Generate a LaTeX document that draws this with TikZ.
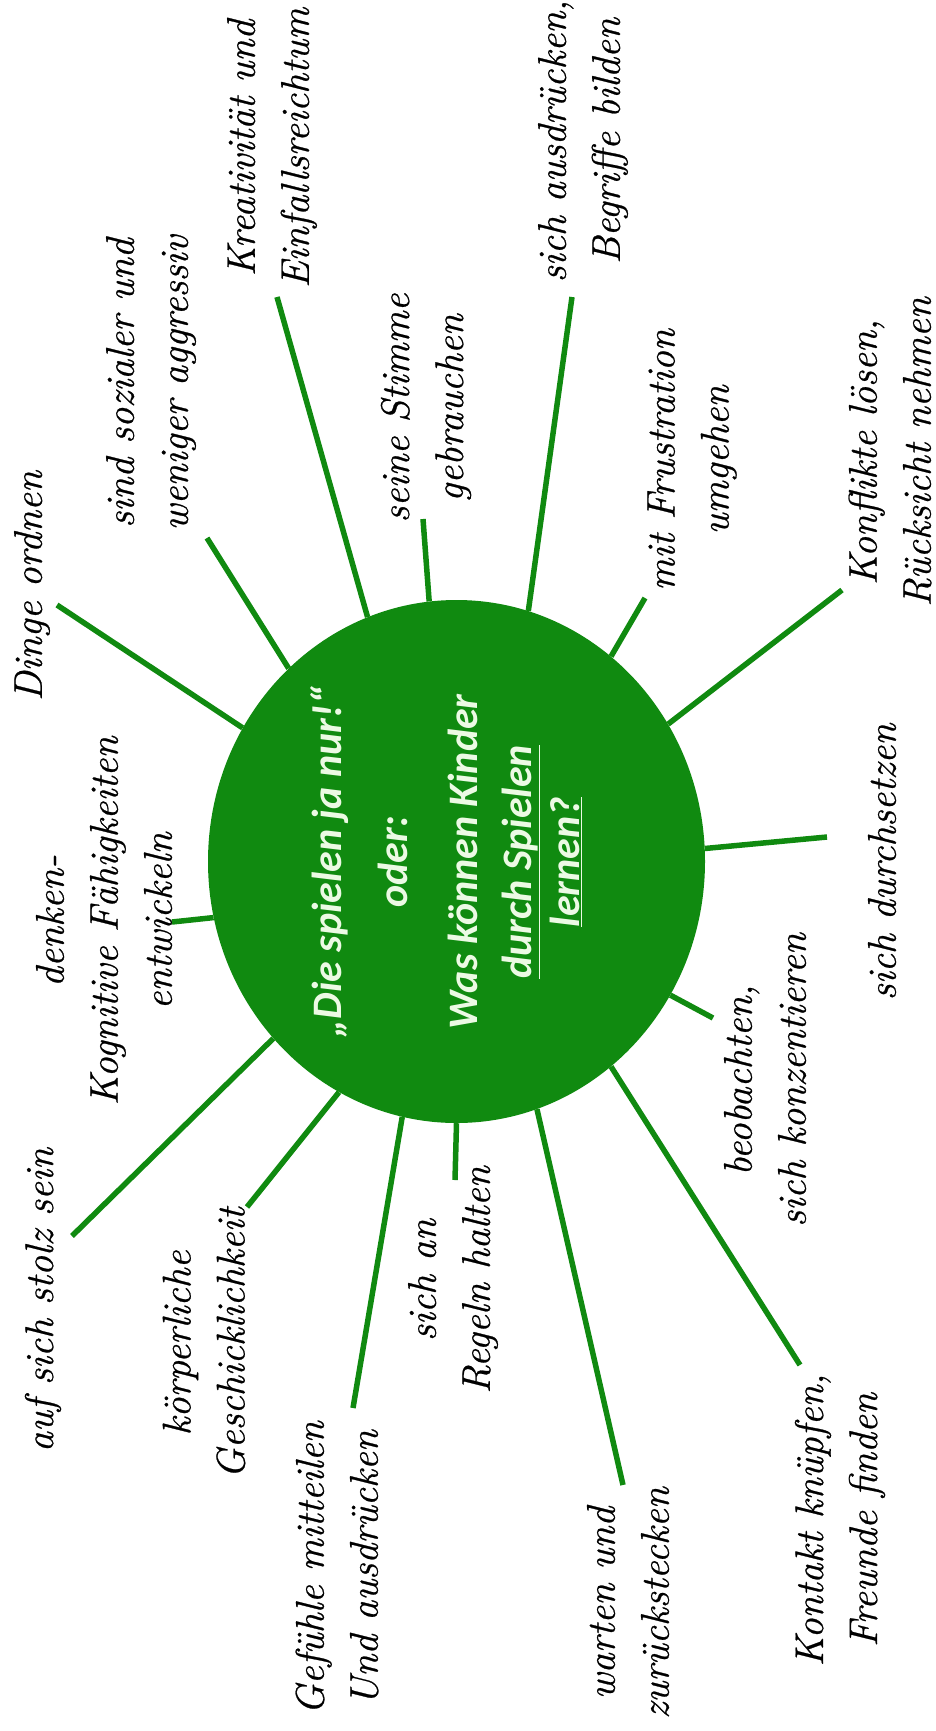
\documentclass[tikz,border=0pt]{standalone}
\usepackage{fontspec}
\newfontfamily\titlefont{Carlito}
\newfontfamily\lblfont{Latin Modern Roman}[ItalicFeatures={FakeBold=0.6}]
\usetikzlibrary{shapes.geometric}
\definecolor{leafgreen}{RGB}{16,138,16}
\definecolor{titletext}{RGB}{236,250,228}
\begin{document}
\begin{tikzpicture}[x=1pt,y=-1pt,
  lbl/.style={rotate=90, align=center, inner sep=0pt, text=black,
    font=\lblfont\fontsize{40}{54}\selectfont\itshape},
  spoke/.style={draw=leafgreen, line width=5.5pt},
  hub/.style={ellipse, fill=leafgreen, inner sep=0pt,
    minimum width=497pt, minimum height=523pt},
  hubtext/.style={rotate=90, align=center, text=titletext, inner sep=0pt,
    font=\titlefont\bfseries\itshape\fontsize{42}{52}\selectfont}]
\useasboundingbox (0,0) rectangle (935,1731);

% central ellipse and its text
\node[hub] (ell) at (456.5,861.5) {};
\node[hubtext] (title) at (446,862)
  {„Die spielen ja nur!“\\[14pt] oder:\\[18pt] Was können Kinder\\[2pt]
   \underline{durch Spielen}\\[-4pt] \underline{lernen?}};

% labels
\node[lbl] (dinge)    at (32,586)   {Dinge ordnen};
\node[lbl] (sozial)   at (151,383)  {sind sozialer und\\weniger aggressiv};
\node[lbl] (kreativ)  at (272,148)  {Kreativität und\\Einfallsreichtum};
\node[lbl] (stimme)   at (426,408)  {seine Stimme\\gebrauchen};
\node[lbl] (begriffe) at (583,141)  {sich ausdrücken,\\Begriffe bilden};
\node[lbl] (frust)    at (692,460)  {mit Frustration\\umgehen};
\node[lbl] (konflikt) at (890,452)  {Konflikte lösen,\\Rücksicht nehmen};
\node[lbl] (durch)    at (882,862)  {sich durchsetzen};
\node[lbl] (beob)     at (765,1080) {beobachten,\\sich konzentieren};
\node[lbl] (kontakt)  at (840,1520) {Kontakt knüpfen,\\Freunde finden};
\node[lbl] (warten)   at (628,1603) {warten und\\zurückstecken};
\node[lbl] (regeln)   at (453,1280) {sich an\\Regeln halten};
\node[lbl] (gefuehle) at (337,1568) {Gefühle mitteilen\\Und ausdrücken};
\node[lbl] (koerper)  at (204,1343) {körperliche\\Geschicklichkeit};
\node[lbl] (stolz)    at (43,1300)  {auf sich stolz sein};
\node[lbl] (denken)   at (104,921)  {denken-\\Kognitive Fähigkeiten\\entwickeln};

% outer ends of the spokes
\coordinate (e-dinge)    at (57,605);
\coordinate (e-sozial)   at (207,538);
\coordinate (e-kreativ)  at (277,297);
\coordinate (e-stimme)   at (423,519);
\coordinate (e-begriffe) at (572,297);
\coordinate (e-frust)    at (645,598);
\coordinate (e-konflikt) at (842,590);
\coordinate (e-durch)    at (827,837);
\coordinate (e-beob)     at (713,1018);
\coordinate (e-kontakt)  at (800,1365);
\coordinate (e-warten)   at (623,1485);
\coordinate (e-regeln)   at (455,1180);
\coordinate (e-gefuehle) at (353,1408);
\coordinate (e-koerper)  at (247,1207);
\coordinate (e-stolz)    at (72,1236);
\coordinate (e-denken)   at (172,922);

% spokes
\draw[spoke] (e-dinge)    -- (ell.148);
\draw[spoke] (e-sozial)   -- (ell.131.3);
\draw[spoke] (e-kreativ)  -- (ell.110.8);
\draw[spoke] (e-stimme)   -- (ell.96.3);
\draw[spoke] (e-begriffe) -- (ell.74.3);
\draw[spoke] (e-frust)    -- (ell.53.7);
\draw[spoke] (e-konflikt) -- (ell.33.4);
\draw[spoke] (e-durch)    -- (ell.3.9);
\draw[spoke] (e-beob)     -- (ell.-32.4);
\draw[spoke] (e-kontakt)  -- (ell.-53.8);
\draw[spoke] (e-warten)   -- (ell.-72.8);
\draw[spoke] (e-regeln)   -- (ell.-90.2);
\draw[spoke] (e-gefuehle) -- (ell.-102.7);
\draw[spoke] (e-koerper)  -- (ell.-117.8);
\draw[spoke] (e-stolz)    -- (ell.-136.3);
\draw[spoke] (e-denken)   -- (ell.-167.1);
\end{tikzpicture}
\end{document}
